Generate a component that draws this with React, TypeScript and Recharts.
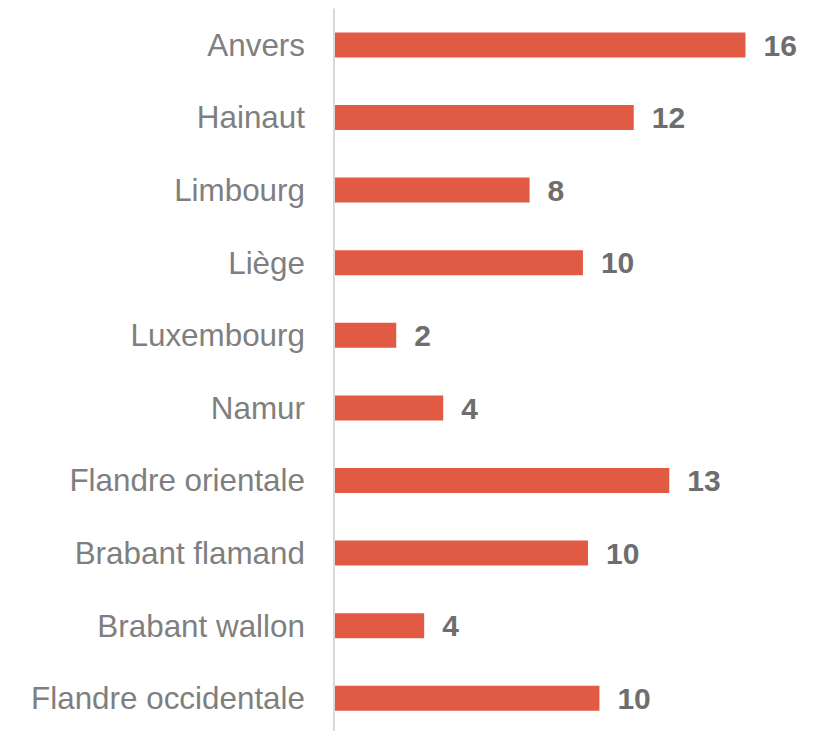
import React from "react";
import { BarChart, Bar, XAxis, YAxis, LabelList } from "recharts";

const categories = [
  "Anvers",
  "Hainaut",
  "Limbourg",
  "Liège",
  "Luxembourg",
  "Namur",
  "Flandre orientale",
  "Brabant flamand",
  "Brabant wallon",
  "Flandre occidentale",
];
const values = [16.2, 11.8, 7.7, 9.8, 2.45, 4.3, 13.2, 10.0, 3.55, 10.45];

const data = categories.map((name, i) => ({ name, value: values[i] }));

const FONT = "'Liberation Sans', Arial, Helvetica, sans-serif";

export default function App() {
  return (
    <div style={{ position: "fixed", left: 0, top: 0, width: 823, height: 735, background: "#fff", fontFamily: FONT }}>
      <BarChart
        width={823}
        height={735}
        data={data}
        layout="vertical"
        margin={{ top: 8.4, right: 31.8, bottom: 0.6, left: 0 }}
        barCategoryGap={23.6}
        style={{ fontFamily: FONT }}
      >
        <XAxis type="number" domain={[0, 18]} hide />
        <YAxis
          type="category"
          dataKey="name"
          width={334}
          axisLine={{ stroke: "#d9d9d9", strokeWidth: 2 }}
          tickLine={false}
          tickSize={0}
          tickMargin={29}
          interval={0}
          tick={{ fill: "#7f7f7f", fontSize: 31.4, fontFamily: FONT, style: { fontFamily: FONT } }}
        />
        <Bar dataKey="value" fill="#e05a44" barSize={25} isAnimationActive={false}>
          <LabelList
            dataKey="value"
            position="right"
            offset={18}
            formatter={(v: number) => Math.round(v)}
            fill="#6e6e6e"
            fontSize={30}
            fontWeight="bold"
            fontFamily={FONT}
            style={{ fontFamily: FONT }}
          />
        </Bar>
      </BarChart>
    </div>
  );
}
